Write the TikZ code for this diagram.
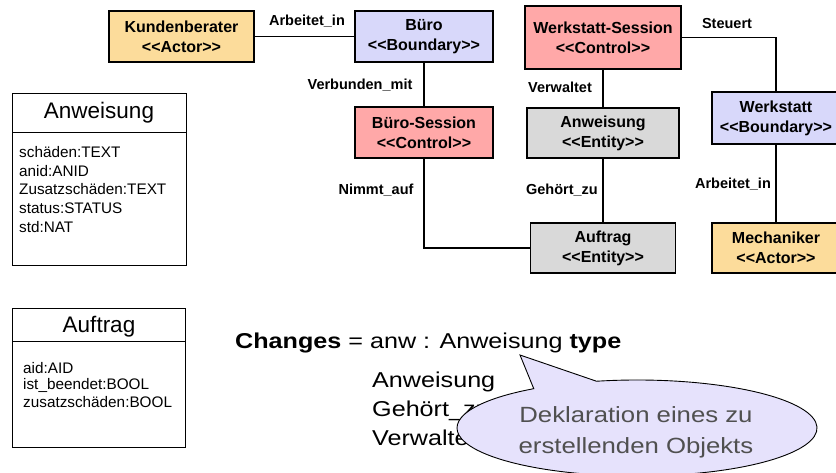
\documentclass[tikz,border=0pt]{standalone}
\usepackage{fontspec}
\setmainfont{Liberation Sans}
\newfontfamily\widesans[FakeStretch=1.17]{Liberation Sans}
\usepackage{tikz}

\definecolor{actorfill}{RGB}{252,220,155}
\definecolor{boundaryfill}{RGB}{216,216,250}
\definecolor{controlfill}{RGB}{255,168,168}
\definecolor{entityfill}{RGB}{217,217,217}
\definecolor{calloutfill}{RGB}{230,226,252}
\definecolor{callouttext}{RGB}{80,80,80}

\newcommand\stereo[1]{<\kern0pt<#1>\kern0pt>}

\begin{document}
\begin{tikzpicture}[
  x=1pt, y=-1pt,
  font=\fontsize{16}{20}\selectfont\bfseries,
  box/.style={draw, line width=1.3pt, align=center, inner sep=0pt,
              minimum height=51pt},
  actor/.style={box, fill=actorfill},
  boundary/.style={box, fill=boundaryfill},
  control/.style={box, fill=controlfill},
  entity/.style={box, fill=entityfill},
  rel/.style={font=\fontsize{14.5}{16}\selectfont\bfseries, inner sep=0pt},
  link/.style={line width=1.2pt},
  classline/.style={line width=0.9pt},
  classtitle/.style={font=\fontsize{22.5}{26}\selectfont, inner sep=0pt},
  attr/.style={font=\fontsize{15.3}{17}\selectfont, anchor=west, inner sep=0pt},
  codeline/.style={font=\widesans\fontsize{21.5}{26}\selectfont,
                   anchor=base west, inner sep=0pt}
]
\useasboundingbox (0,0) rectangle (836,472);

% ----- Analyseobjekte -----
\node[actor, minimum width=145pt] (kunde) at (181.5,36.5)
  {Kundenberater\\\stereo{Actor}};
\node[boundary, minimum width=138pt] (buero) at (424,36.5)
  {Büro\\\stereo{Boundary}};
\node[control, minimum width=156pt, minimum height=63pt] (wsess) at (603,37.5)
  {Werkstatt-Session\\\stereo{Control}};
\node[control, minimum width=138pt] (bsess) at (424,132.5)
  {Büro-Session\\\stereo{Control}};
\node[entity, minimum width=152pt, minimum height=50pt] (anw) at (603,133)
  {Anweisung\\\stereo{Entity}};
\node[entity, minimum width=145pt, minimum height=50pt] (auftrag) at (603,248)
  {Auftrag\\\stereo{Entity}};
\node[boundary, minimum width=128pt, minimum height=52pt] (werkstatt) at (776,118)
  {Werkstatt\\\stereo{Boundary}};
\node[actor, minimum width=128pt, minimum height=50pt] (mech) at (776,248)
  {Mechaniker\\\stereo{Actor}};

% ----- Beziehungen -----
\draw[link] (kunde) -- (buero);
\draw[link] (buero) -- (bsess);
\draw[link] (wsess) -- (anw);
\draw[link] (anw) -- (auftrag);
\draw[link] (bsess) |- (auftrag);
\draw[link] (wsess.east) -| (werkstatt);
\draw[link] (werkstatt) -- (mech);

% ----- Beschriftungen -----
\node[rel] (lblarb) at (307,21) {Arbeitet\_in};
\node[rel] (lblverb) at (360,85) {Verbunden\_mit};
\node[rel] (lblverw) at (560,87) {Verwaltet};
\node[rel] (lblsteu) at (727,24) {Steuert};
\node[rel] (lblnimmt) at (376,190) {Nimmt\_auf};
\node[rel] (lblgeh) at (562,190) {Gehört\_zu};
\node[rel] (lblarbw) at (733,184) {Arbeitet\_in};

% ----- Klasse Anweisung -----
\draw[classline] (12,93) rectangle (186,265);
\draw[classline] (12,132) -- (186,132);
\node[classtitle] (anwtitle) at (99,113) {Anweisung};
\foreach \a [count=\i] in {schäden:TEXT, anid:ANID, Zusatzschäden:TEXT,
                           status:STATUS, std:NAT}
  \node[attr] (anwattr\i) at (19,133.3+18.7*\i) {\a};

% ----- Klasse Auftrag -----
\draw[classline] (12,308) rectangle (185,447);
\draw[classline] (12,341) -- (185,341);
\node[classtitle] (auftitle) at (99,327) {Auftrag};
\foreach \a [count=\i] in {aid:AID, ist\_beendet:BOOL, zusatzschäden:BOOL}
  \node[attr] (aufattr\i) at (23,351+17*\i) {\a};

% ----- Spezifikation -----
\node[codeline] (changes) at (235,348.5)
  {\textbf{Changes} = anw : Anweisung \textbf{type}};
\node[codeline] (line1) at (372,387.5) {Anweisung};
\node[codeline] (line2) at (372,416.5) {Gehört\_zu};
\node[codeline] (line3) at (372,445.5) {Verwaltet};

% ----- Sprechblase -----
\coordinate (hc) at (637,428);
\coordinate (tip) at (520,355);
\draw[line width=0.9pt, fill=calloutfill]
  ([shift={(125:180pt and 48pt)}]hc) -- (tip)
  -- ([shift={(103:180pt and 48pt)}]hc)
  arc[start angle=103, end angle=-235, x radius=180pt, y radius=48pt]
  -- cycle;
\node[align=center, text=callouttext, inner sep=0pt,
      font=\widesans\fontsize{22}{31}\selectfont] (hint) at (636,432)
  {Deklaration eines zu\\erstellenden Objekts};
\end{tikzpicture}
\end{document}
